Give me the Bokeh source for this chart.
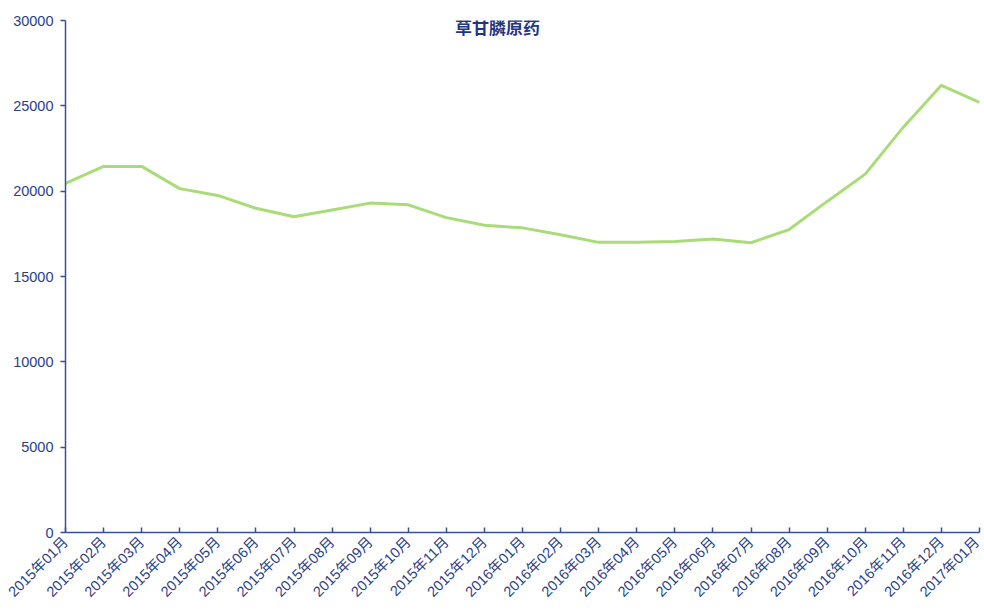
import math
from bokeh.plotting import figure
from bokeh.models import FixedTicker, Label, Range1d
from bokeh.embed import file_html
from bokeh.resources import INLINE

months = ["2015年01月", "2015年02月", "2015年03月", "2015年04月", "2015年05月", "2015年06月",
          "2015年07月", "2015年08月", "2015年09月", "2015年10月", "2015年11月", "2015年12月",
          "2016年01月", "2016年02月", "2016年03月", "2016年04月", "2016年05月", "2016年06月",
          "2016年07月", "2016年08月", "2016年09月", "2016年10月", "2016年11月", "2016年12月",
          "2017年01月"]
prices = [20450, 21450, 21450, 20150, 19750, 19000, 18500, 18900, 19300, 19200, 18450, 18000,
          17850, 17450, 17000, 17000, 17050, 17200, 16980, 17750, 19400, 21000, 23750, 26200,
          25200]
y_ticks = [0, 5000, 10000, 15000, 20000, 25000, 30000]
title_text = "草甘膦原药"

FONT = "'Liberation Sans', Arial, 'Noto Sans CJK SC', sans-serif"
AXIS_COLOR = "#3b4f94"
TEXT_COLOR = "#2b3f86"

x = list(range(len(months)))

p = figure(width=982, height=615, output_backend="svg", toolbar_location=None,
           x_range=Range1d(0, len(months) - 1), y_range=Range1d(0, 30000),
           min_border_left=65, min_border_right=3, min_border_top=20, min_border_bottom=83)
p.outline_line_color = None
p.xgrid.grid_line_color = None
p.ygrid.grid_line_color = None

p.line(x, prices, line_color="#a9dc78", line_width=3)

p.xaxis.ticker = FixedTicker(ticks=x)
p.xaxis.major_label_overrides = {i: m for i, m in zip(x, months)}
p.xaxis.major_label_orientation = math.pi / 4
p.xaxis.major_tick_in = 5
p.xaxis.major_tick_out = 0
p.xaxis.minor_tick_line_color = None
p.xaxis.major_label_standoff = 7

p.yaxis.ticker = FixedTicker(ticks=y_ticks)
p.yaxis.major_tick_in = 0
p.yaxis.major_tick_out = 5
p.yaxis.minor_tick_line_color = None
p.yaxis.major_label_standoff = 7

for ax in (p.xaxis, p.yaxis):
    ax.axis_line_color = AXIS_COLOR
    ax.axis_line_width = 1.5
    ax.major_tick_line_color = AXIS_COLOR
    ax.major_tick_line_width = 1.5
    ax.major_label_text_color = TEXT_COLOR
    ax.major_label_text_font = FONT
    ax.major_label_text_font_size = "14.5px"

p.add_layout(Label(x=432, y=504, x_units="screen", y_units="screen", text=title_text,
                   text_align="center", text_baseline="middle", text_font=FONT,
                   text_font_style="bold", text_font_size="17px", text_color="#1f3683"))

open("out.html", "w").write(file_html(p, INLINE))
